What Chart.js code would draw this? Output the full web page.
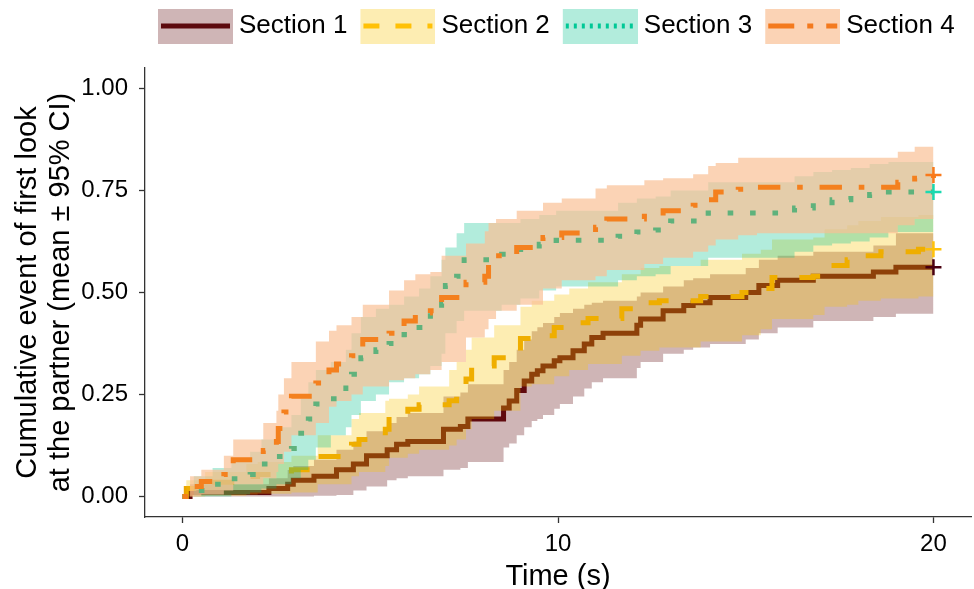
<!DOCTYPE html>
<html>
<head>
<meta charset="utf-8">
<script src="https://cdn.jsdelivr.net/npm/chart.js@4.4.1/dist/chart.umd.min.js"></script>
<style>
html,body{margin:0;padding:0;background:#fff;}
#wrap{width:974px;height:589px;position:relative;}
</style>
</head>
<body>
<div id="wrap"><canvas id="c"></canvas></div>
<script>
// ---------- data ----------
const sectionNames = ['Section 1', 'Section 2', 'Section 3', 'Section 4'];

const timeS1  = [0,0.2,2.3,2.8,2.95,3.5,4.1,4.55,4.9,5.45,5.7,6.0,6.95,7.4,7.6,8.55,8.7,8.9,9.1,9.3,9.45,9.6,9.9,10.05,10.4,10.7,10.9,11.2,12.1,12.2,12.8,13.35,13.6,14.05,15.0,15.35,15.85,16.8,18.4,19.0,20];
const meanS1  = [0,0.01,0.02,0.03,0.04,0.05,0.066,0.08,0.10,0.115,0.128,0.135,0.165,0.172,0.19,0.217,0.234,0.26,0.283,0.30,0.308,0.32,0.333,0.34,0.357,0.374,0.39,0.40,0.42,0.435,0.455,0.468,0.475,0.488,0.50,0.517,0.53,0.54,0.55,0.562,0.562];
const lowerS1 = [0,0,0,0,0,0.002,0.004,0.015,0.025,0.04,0.045,0.05,0.066,0.07,0.085,0.12,0.13,0.15,0.17,0.185,0.19,0.2,0.215,0.227,0.245,0.265,0.28,0.29,0.315,0.33,0.35,0.36,0.365,0.374,0.385,0.40,0.414,0.43,0.44,0.448,0.448];
const upperS1 = [0,0.03,0.045,0.065,0.075,0.09,0.115,0.135,0.16,0.18,0.195,0.205,0.245,0.255,0.275,0.31,0.33,0.36,0.385,0.405,0.415,0.425,0.44,0.45,0.46,0.47,0.475,0.48,0.49,0.50,0.515,0.53,0.535,0.545,0.56,0.58,0.59,0.60,0.615,0.645,0.645];

const timeS2  = [0,0.1,0.6,1.7,2.0,2.9,3.6,4.5,4.7,5.4,5.5,6.0,6.3,7.1,7.3,7.55,7.7,8.3,9.0,9.3,9.9,10.3,10.8,11.7,12.2,12.7,13.8,14.9,15.4,15.7,16.8,17.1,17.7,18.0,18.6,19.6,20];
const meanS2  = [0,0.02,0.035,0.049,0.054,0.066,0.098,0.128,0.14,0.165,0.20,0.214,0.225,0.235,0.254,0.288,0.32,0.34,0.387,0.394,0.414,0.426,0.436,0.46,0.475,0.48,0.49,0.50,0.51,0.537,0.54,0.566,0.58,0.59,0.60,0.606,0.606];
const lowerS2 = [0,0,0.002,0.005,0.007,0.01,0.03,0.05,0.06,0.075,0.095,0.105,0.115,0.125,0.14,0.165,0.19,0.21,0.27,0.275,0.295,0.31,0.325,0.345,0.357,0.365,0.38,0.395,0.41,0.435,0.445,0.465,0.47,0.48,0.485,0.49,0.49];
const upperS2 = [0,0.04,0.06,0.08,0.085,0.10,0.15,0.19,0.205,0.235,0.24,0.25,0.27,0.31,0.33,0.36,0.39,0.42,0.465,0.48,0.495,0.51,0.525,0.545,0.56,0.565,0.58,0.595,0.605,0.63,0.635,0.655,0.665,0.675,0.685,0.69,0.69];

const timeS3  = [0,0.3,0.8,1.3,1.8,2.1,2.5,2.9,3.15,3.35,3.55,3.95,4.35,4.5,4.75,5.15,5.5,5.9,6.3,6.6,6.9,7.0,7.3,7.5,8.5,9.0,9.5,9.95,11.6,12.1,12.6,13.0,14.0,16.3,16.8,17.3,17.8,18.3,18.8,20];
const meanS3  = [0,0.015,0.03,0.044,0.054,0.08,0.098,0.118,0.155,0.19,0.227,0.24,0.266,0.30,0.34,0.36,0.375,0.397,0.414,0.443,0.473,0.517,0.54,0.58,0.594,0.606,0.618,0.628,0.638,0.648,0.653,0.675,0.695,0.707,0.72,0.727,0.73,0.74,0.746,0.746];
const lowerS3 = [0,0,0,0.005,0.01,0.02,0.03,0.045,0.065,0.09,0.12,0.15,0.17,0.2,0.234,0.25,0.28,0.29,0.30,0.32,0.35,0.40,0.43,0.455,0.47,0.485,0.505,0.515,0.53,0.54,0.545,0.565,0.585,0.6,0.615,0.62,0.625,0.635,0.648,0.648];
const upperS3 = [0,0.05,0.07,0.09,0.11,0.14,0.17,0.2,0.24,0.28,0.31,0.33,0.36,0.40,0.44,0.46,0.47,0.49,0.51,0.54,0.58,0.61,0.645,0.67,0.67,0.68,0.69,0.70,0.72,0.73,0.735,0.75,0.77,0.785,0.795,0.80,0.805,0.815,0.82,0.825];

const timeS4  = [0,0.2,0.5,1.1,1.35,2.15,2.5,2.55,2.7,2.9,3.55,3.9,4.1,4.5,4.8,5.5,5.9,6.2,6.6,6.9,7.55,8.05,8.15,8.35,8.9,9.6,10.1,11.0,11.3,12.3,12.8,13.6,14.0,14.2,14.8,15.3,19.05,19.5,20];
const meanS4  = [0,0.025,0.037,0.054,0.09,0.113,0.135,0.167,0.207,0.246,0.278,0.31,0.325,0.345,0.385,0.40,0.43,0.45,0.455,0.488,0.525,0.54,0.57,0.59,0.61,0.635,0.646,0.66,0.68,0.687,0.70,0.714,0.727,0.746,0.753,0.758,0.77,0.78,0.788];
const lowerS4 = [0,0,0.005,0.015,0.03,0.045,0.06,0.08,0.11,0.15,0.18,0.22,0.234,0.25,0.27,0.285,0.29,0.30,0.31,0.33,0.39,0.41,0.435,0.455,0.47,0.51,0.53,0.54,0.555,0.57,0.585,0.6,0.615,0.63,0.64,0.645,0.665,0.68,0.69];
const upperS4 = [0,0.05,0.066,0.10,0.14,0.18,0.21,0.25,0.29,0.33,0.38,0.406,0.42,0.44,0.47,0.505,0.53,0.545,0.55,0.59,0.62,0.65,0.67,0.68,0.70,0.72,0.73,0.755,0.763,0.775,0.78,0.79,0.81,0.817,0.83,0.83,0.845,0.857,0.857];

const xTickValues = [0, 10, 20];
const xTickLabels = ['0', '10', '20'];
const yTickValues = [0, 0.25, 0.5, 0.75, 1];
const yTickLabels = ['0.00', '0.25', '0.50', '0.75', '1.00'];

// ---------- styles ----------
const keyLineColors  = ['#5c0a0e', '#FFC107', '#00C896', '#F47A1E'];   // legend samples
const plotLineColors = ['#600a0e', '#EBA500', '#5FB27C', '#F4801E'];   // lines as seen inside the bands
const plusColors     = ['#4a0010', '#FFC20A', '#1BD9B0', '#F97A1C'];
const bandColors     = ['rgba(96,10,14,0.3)', 'rgba(249,194,0,0.3)', 'rgba(0,192,138,0.3)', 'rgba(249,192,149,0.7)'];
const dashPatterns = [[], [22, 22], [5.6, 16.8], [5.6, 16.8, 22.4, 16.8]];
const legendDash   = [[], [16, 16], [3, 5], [26, 13, 6, 13]];
// drawing order (higher = drawn earlier): [line, band] per section
const drawOrder = [[100, 99], [90, 89], [60, 79], [59, 69]];

const times = [timeS1, timeS2, timeS3, timeS4];
const means = [meanS1, meanS2, meanS3, meanS4];
const lowers = [lowerS1, lowerS2, lowerS3, lowerS4];
const uppers = [upperS1, upperS2, upperS3, upperS4];

function pts(t, v) { return t.map((x, i) => ({ x: x, y: v[i] })); }

const FONT = "'Liberation Sans', Arial, Helvetica, sans-serif";
Chart.defaults.font.family = FONT;
Chart.defaults.color = '#000';

const datasets = [];
for (let i = 0; i < 4; i++) {
  datasets.push({
    label: sectionNames[i],
    data: pts(times[i], means[i]),
    xAxisID: 'x', yAxisID: 'y',
    stepped: true,
    borderColor: plotLineColors[i],
    borderWidth: 5,
    borderDash: dashPatterns[i],
    borderCapStyle: 'butt',
    borderJoinStyle: 'miter',
    pointRadius: 0, pointHoverRadius: 0,
    fill: false,
    order: drawOrder[i][0]
  });
  datasets.push({
    label: sectionNames[i] + ' upper',
    data: pts(times[i], uppers[i]),
    xAxisID: 'x', yAxisID: 'y',
    stepped: true,
    borderWidth: 0, borderColor: 'rgba(0,0,0,0)',
    backgroundColor: bandColors[i],
    pointRadius: 0, pointHoverRadius: 0,
    fill: '+1',
    order: drawOrder[i][1]
  });
  datasets.push({
    label: sectionNames[i] + ' lower',
    data: pts(times[i], lowers[i]),
    xAxisID: 'x', yAxisID: 'y',
    stepped: true,
    borderWidth: 0, borderColor: 'rgba(0,0,0,0)',
    pointRadius: 0, pointHoverRadius: 0,
    fill: false,
    order: drawOrder[i][1] - 0.5
  });
}
// censor marks at the end of each curve
for (let i = 0; i < 4; i++) {
  const n = times[i].length - 1;
  datasets.push({
    label: sectionNames[i] + ' censor',
    data: [{ x: times[i][n], y: means[i][n] }],
    xAxisID: 'x', yAxisID: 'y',
    showLine: false,
    pointStyle: 'cross',
    pointRadius: 8,
    pointBorderWidth: 2.5,
    pointBorderColor: plusColors[i],
    borderColor: plusColors[i],
    order: 0
  });
}

// legend keys (band-coloured box with the line sample)
function makeKey(i) {
  const cv = document.createElement('canvas');
  cv.width = 91; cv.height = 36;
  const g = cv.getContext('2d');
  g.fillStyle = bandColors[i];
  g.fillRect(16, 0, 75, 36);
  g.strokeStyle = keyLineColors[i];
  g.lineWidth = 5;
  g.lineCap = 'butt';
  g.setLineDash(legendDash[i]);
  g.beginPath();
  g.moveTo(19, 18);
  g.lineTo(88, 18);
  g.stroke();
  return cv;
}
const keys = [0, 1, 2, 3].map(makeKey);

new Chart(document.getElementById('c'), {
  type: 'line',
  data: { datasets: datasets },
  options: {
    responsive: true,
    maintainAspectRatio: false,
    animation: false,
    events: [],
    layout: { autoPadding: false, padding: { top: 9, right: 3, bottom: 0, left: 0 } },
    plugins: {
      tooltip: { enabled: false },
      legend: {
        position: 'top',
        fullSize: false,
        align: 'start',
        labels: {
          usePointStyle: true,
          pointStyleWidth: 77,
          padding: 4,
          color: '#000',
          font: { size: 26, family: FONT },
          generateLabels: () => sectionNames.map((name, i) => ({
            text: name,
            pointStyle: keys[i],
            fillStyle: 'rgba(0,0,0,0)',
            strokeStyle: 'rgba(0,0,0,0)',
            lineWidth: 0,
            hidden: false,
            datasetIndex: i * 3,
            fontColor: '#000'
          }))
        }
      }
    },
    scales: {
      x: {
        type: 'linear',
        position: 'bottom',
        min: -1, max: 21,
        afterBuildTicks: s => { s.ticks = xTickValues.map(v => ({ value: v })); },
        afterFit: s => { s.height = 72; s.paddingLeft = 0; s.paddingRight = 0; },
        ticks: {
          color: '#000', padding: 7, maxRotation: 0,
          font: { size: 24, family: FONT },
          callback: (v, idx) => xTickLabels[idx]
        },
        grid: { display: true, drawOnChartArea: false, drawTicks: true, tickLength: 6, tickColor: '#333', tickWidth: 1.3 },
        border: { display: true, color: '#333', width: 1.3 },
        title: { display: true, text: 'Time (s)', color: '#000', font: { size: 29, lineHeight: 0.8, family: FONT }, padding: { top: 0, bottom: 0 } }
      },
      xTop: {
        type: 'linear',
        position: 'top',
        display: true,
        afterFit: s => { s.height = 19; s.paddingLeft = 0; s.paddingRight = 0; },
        ticks: { display: false },
        grid: { display: false, drawTicks: false },
        border: { display: false }
      },
      y: {
        type: 'linear',
        position: 'left',
        min: -0.05, max: 1.05,
        afterBuildTicks: s => { s.ticks = yTickValues.map(v => ({ value: v })); },
        afterFit: s => { s.width = 145; s.paddingTop = 0; s.paddingBottom = 0; },
        ticks: {
          color: '#000', padding: 11,
          font: { size: 24, family: FONT },
          callback: (v, idx) => yTickLabels[idx]
        },
        grid: { display: true, drawOnChartArea: false, drawTicks: true, tickLength: 6, tickColor: '#333', tickWidth: 1.3 },
        border: { display: true, color: '#333', width: 1.3 },
        title: {
          display: true,
          text: ['Cumulative event of first look', 'at the partner (mean \u00B1 95% CI)'],
          color: '#000',
          font: { size: 29, lineHeight: 1.14, family: FONT },
          padding: { top: 11, bottom: 0 }
        }
      }
    }
  }
});
</script>
</body>
</html>
